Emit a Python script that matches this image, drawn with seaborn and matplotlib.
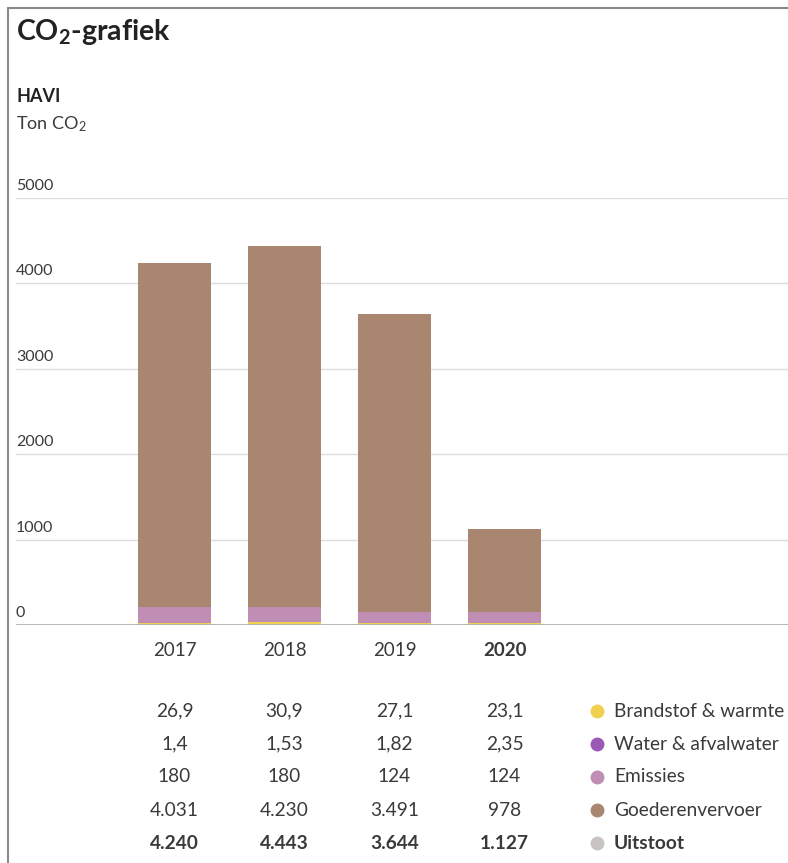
import matplotlib
matplotlib.use("Agg")
import matplotlib.pyplot as plt
from matplotlib.lines import Line2D
from matplotlib.transforms import blended_transform_factory
import seaborn as sns
import numpy as np

# Data (Ton CO2, HAVI)
years = ["2017", "2018", "2019", "2020"]
brandstof = [26.9, 30.9, 27.1, 23.1]
water = [1.4, 1.53, 1.82, 2.35]
emissies = [180, 180, 124, 124]
goederen = [4031, 4230, 3491, 978]
uitstoot = [4240, 4443, 3644, 1127]

series_names = ["Brandstof & warmte", "Water & afvalwater", "Emissies", "Goederenvervoer"]
series_values = [brandstof, water, emissies, goederen]
series_colors = ["#f2d04f", "#9b59b6", "#c08db5", "#a9866f"]
total_color = "#c9c4c1"
yticks = [0, 1000, 2000, 3000, 4000, 5000]

sns.set_theme(style="white")
plt.rcParams["font.family"] = ["Lato", "DejaVu Sans"]
plt.rcParams["mathtext.fontset"] = "custom"
plt.rcParams["mathtext.rm"] = "Lato"
plt.rcParams["mathtext.it"] = "Lato"
plt.rcParams["mathtext.bf"] = "Lato:bold"
txt = "#3a3a3a"

W, H = 788, 863
fig = plt.figure(figsize=(W / 100, H / 100), dpi=100)

def fx(px):
    return px / W

def fy(py):
    return 1 - py / H

# plot area: zero line at y=625, 5000 line at y=198
ax = fig.add_axes([fx(16), fy(625), fx(788) - fx(16), (625 - 198) / H])

# stacked bars
bottom = np.zeros(len(years))
for name, vals, col in zip(series_names, series_values, series_colors):
    sns.barplot(x=years, y=vals, bottom=bottom, color=col, width=0.66,
                saturation=1, ax=ax, linewidth=0, errorbar=None)
    bottom = bottom + np.array(vals)

ax.set_ylim(0, 5000)
ax.set_xlim(-(174.5 - 16) / 110, (788 - 174.5) / 110)
for s in ax.spines.values():
    s.set_visible(False)
ax.set_yticks([])
for v in yticks[1:]:
    ax.axhline(v, color="#dddddd", lw=1, zorder=0)
ax.axhline(0, color="#b0b0b0", lw=2, zorder=3)
for v in yticks:
    ax.annotate(str(v), xy=(0, v), xycoords=("axes fraction", "data"),
                xytext=(0, 12), textcoords="offset pixels",
                ha="left", va="center", fontsize=11.5, color=txt)

# year labels
ax.set_xticks(range(len(years)))
ax.set_xticklabels(years, fontsize=13.5, color=txt)
ax.tick_params(axis="x", length=0, pad=12)
ax.get_xticklabels()[-1].set_fontweight("bold")
ax.set_xlabel("")

# table under the chart
def fmt_nl(v):
    if v >= 100:
        return f"{v:,.0f}".replace(",", ".")
    return f"{v:g}".replace(".", ",")

tr = blended_transform_factory(ax.transData, fig.transFigure)
row_y = [711, 744, 777, 810, 843]
for r, vals in enumerate(series_values + [uitstoot]):
    bold = r == len(series_values)
    for i, v in enumerate(vals):
        ax.text(i, fy(row_y[r]), fmt_nl(v), transform=tr, ha="center", va="center",
                fontsize=13.8, color=txt, fontweight="bold" if bold else "normal",
                clip_on=False)

# legend
for r, (name, col) in enumerate(zip(series_names + ["Uitstoot"], series_colors + [total_color])):
    fig.add_artist(Line2D([fx(597)], [fy(row_y[r])], marker="o", ms=9, color=col,
                          lw=0, transform=fig.transFigure))
    fig.text(fx(614), fy(row_y[r]), name, ha="left", va="center", fontsize=13.8,
             color=txt, fontweight="bold" if name == "Uitstoot" else "normal")

# header texts
fig.text(fx(16), fy(32), r"CO$_\mathbf{2}$-grafiek", ha="left", va="center", fontsize=20.5,
         fontweight="bold", color="#222222")
fig.text(fx(16), fy(96), "HAVI", ha="left", va="center", fontsize=13,
         fontweight="bold", color="#222222")
fig.text(fx(16), fy(124), r"Ton CO$_2$", ha="left", va="center", fontsize=13, color=txt)

# frame lines (left and top)
fig.add_artist(Line2D([fx(8), fx(8)], [0, fy(8)], color="#8a8a8a", lw=1.5,
                      transform=fig.transFigure))
fig.add_artist(Line2D([fx(8), 1], [fy(8), fy(8)], color="#8a8a8a", lw=1.5,
                      transform=fig.transFigure))

fig.savefig("out.png", dpi=100)
